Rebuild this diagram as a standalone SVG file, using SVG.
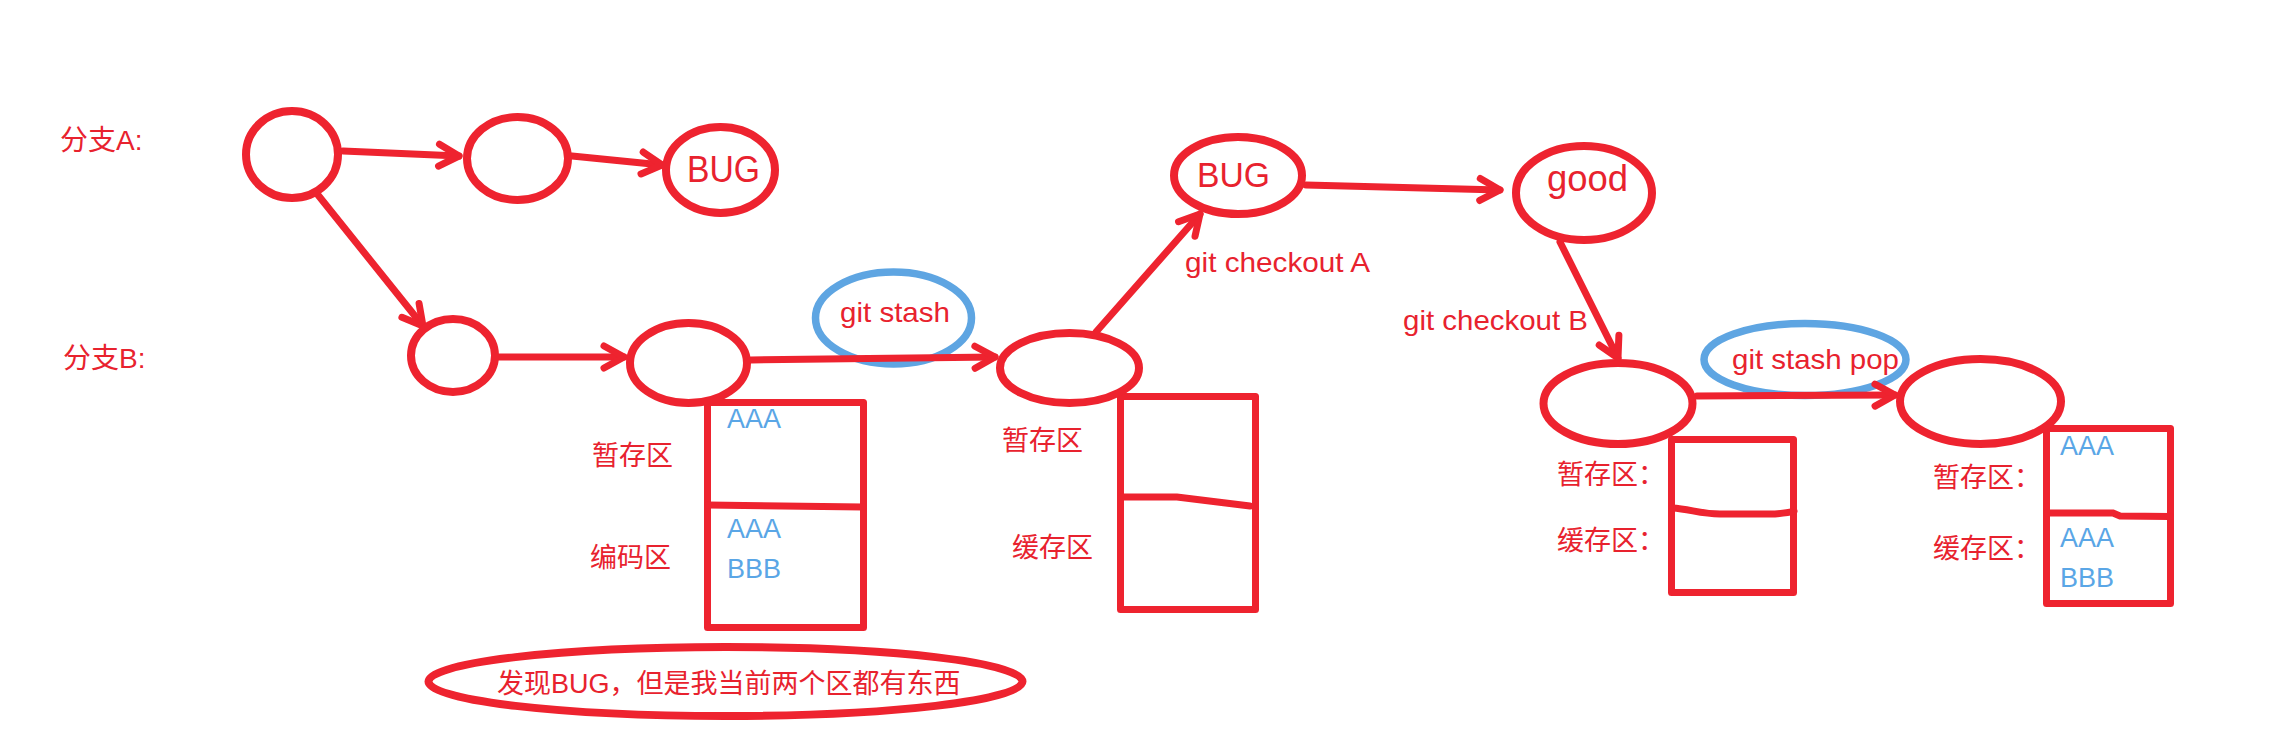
<svg xmlns="http://www.w3.org/2000/svg" width="2290" height="742" viewBox="0 0 2290 742">
<defs>
<style>
.n{fill:none;stroke:#EE232F;stroke-width:8}
.s{fill:none;stroke:#5EA5E2;stroke-width:7.5}
.b{fill:none;stroke:#EE232F;stroke-width:7;stroke-linejoin:round}
.d{fill:none;stroke:#EE232F;stroke-width:7;stroke-linecap:round}
.c{fill:none;stroke:#EE232F;stroke-width:7;stroke-linecap:round}
.t{font-family:"Liberation Sans","Noto Sans CJK SC",sans-serif;fill:#E8222E}
.a{font-family:"Liberation Sans","Noto Sans CJK SC",sans-serif;fill:#5AA6E6}
</style>
<marker id="arr" markerUnits="userSpaceOnUse" markerWidth="40" markerHeight="40" viewBox="-30 -20 40 40" refX="0" refY="0" orient="auto" overflow="visible">
<path d="M-20,-11 L0,0 L-20,11" fill="none" stroke="#EE232F" stroke-width="7" stroke-linecap="round" stroke-linejoin="round"/>
</marker>
</defs>
<rect width="2290" height="742" fill="#fff"/>

<g id="labels">
<text class="t" x="60" y="150" font-size="28">分支A:</text>
<text class="t" x="63" y="368" font-size="28">分支B:</text>
</g>

<g id="stash-label">
<ellipse class="s" cx="893.5" cy="318" rx="78" ry="46"/>
<text class="t" x="840" y="322" font-size="28" textLength="110" lengthAdjust="spacingAndGlyphs">git stash</text>
</g>
<g id="stash-pop-label">
<ellipse class="s" cx="1805" cy="359.5" rx="101" ry="36"/>
<text class="t" x="1732" y="369" font-size="28" textLength="167" lengthAdjust="spacingAndGlyphs">git stash pop</text>
</g>

<g id="connectors">
<path class="c" d="M343,151 L459,156" marker-end="url(#arr)"/>
<path class="c" d="M572,156 L662,165" marker-end="url(#arr)"/>
<path class="c" d="M318,195 L423,326" marker-end="url(#arr)"/>
<path class="c" d="M499,357 L624,357" marker-end="url(#arr)"/>
<path class="c" d="M751,360 L995,357" marker-end="url(#arr)"/>
<path class="c" d="M1096,332 L1200,214" marker-end="url(#arr)"/>
<path class="c" d="M1306,185 L1500,190" marker-end="url(#arr)"/>
<path class="c" d="M1560,242 L1618,358" marker-end="url(#arr)"/>
<path class="c" d="M1697,396 L1895,395" marker-end="url(#arr)"/>
</g>

<g id="nodeA1"><ellipse class="n" cx="292" cy="154.5" rx="46" ry="43.5"/></g>
<g id="nodeA2"><ellipse class="n" cx="517.5" cy="158.5" rx="50.5" ry="41.5"/></g>
<g id="nodeA3">
<ellipse class="n" cx="720.5" cy="170" rx="54.5" ry="43"/>
<text class="t" x="687" y="182" font-size="36" textLength="73" lengthAdjust="spacingAndGlyphs">BUG</text>
</g>
<g id="nodeB1"><ellipse class="n" cx="453" cy="355.5" rx="42" ry="36.5"/></g>

<g id="nodeB2">
<rect class="b" x="707.5" y="402.5" width="156" height="225"/>
<path class="d" d="M708,505 L744,505.5 L863,507"/>
<ellipse class="n" cx="688.5" cy="363" rx="58.5" ry="40"/>
<text class="t" x="592" y="465" font-size="27">暂存区</text>
<text class="t" x="590" y="567" font-size="27">编码区</text>
<text class="a" x="727" y="428" font-size="27">AAA</text>
<text class="a" x="727" y="538" font-size="27">AAA</text>
<text class="a" x="727" y="578" font-size="27">BBB</text>
</g>

<g id="nodeB3">
<rect class="b" x="1120.5" y="396.5" width="135" height="213"/>
<path class="d" d="M1122,497 L1177,497 L1250,506"/>
<ellipse class="n" cx="1069.5" cy="368" rx="69.5" ry="35"/>
<text class="t" x="1002" y="450" font-size="27">暂存区</text>
<text class="t" x="1012" y="557" font-size="27">缓存区</text>
</g>

<g id="nodeBugA">
<ellipse class="n" cx="1238" cy="175.5" rx="64" ry="38.5"/>
<text class="t" x="1197" y="187" font-size="35" textLength="73" lengthAdjust="spacingAndGlyphs">BUG</text>
</g>
<g id="checkoutA">
<text class="t" x="1185" y="272" font-size="28" textLength="185" lengthAdjust="spacingAndGlyphs">git checkout A</text>
</g>

<g id="nodeGood">
<ellipse class="n" cx="1584" cy="193" rx="68" ry="47"/>
<text class="t" x="1547" y="191" font-size="36" textLength="81" lengthAdjust="spacingAndGlyphs">good</text>
</g>
<g id="checkoutB">
<text class="t" x="1403" y="330" font-size="28" textLength="185" lengthAdjust="spacingAndGlyphs">git checkout B</text>
</g>

<g id="nodeB4">
<rect class="b" x="1671.5" y="439.5" width="122" height="153"/>
<path class="d" d="M1672,508 C1690,509 1700,514 1720,514 L1775,514 Q1788,513 1794,511"/>
<ellipse class="n" cx="1618" cy="403.5" rx="74.5" ry="40.5"/>
<text class="t" x="1557" y="484" font-size="27">暂存区：</text>
<text class="t" x="1557" y="550" font-size="27">缓存区：</text>
</g>

<g id="nodeB5">
<rect class="b" x="2046.5" y="428.5" width="124" height="175"/>
<path class="d" d="M2047,513 L2113,513 L2120,516 L2170,516.5"/>
<ellipse class="n" cx="1980.5" cy="401.5" rx="80.5" ry="42.5"/>
<text class="t" x="1933" y="487" font-size="27">暂存区：</text>
<text class="t" x="1933" y="558" font-size="27">缓存区：</text>
<text class="a" x="2060" y="455" font-size="27">AAA</text>
<text class="a" x="2060" y="547" font-size="27">AAA</text>
<text class="a" x="2060" y="587" font-size="27">BBB</text>
</g>

<g id="note">
<ellipse class="n" cx="725.5" cy="681.5" rx="297" ry="34.5"/>
<text class="t" x="497" y="693" font-size="27">发现BUG，但是我当前两个区都有东西</text>
</g>
</svg>
